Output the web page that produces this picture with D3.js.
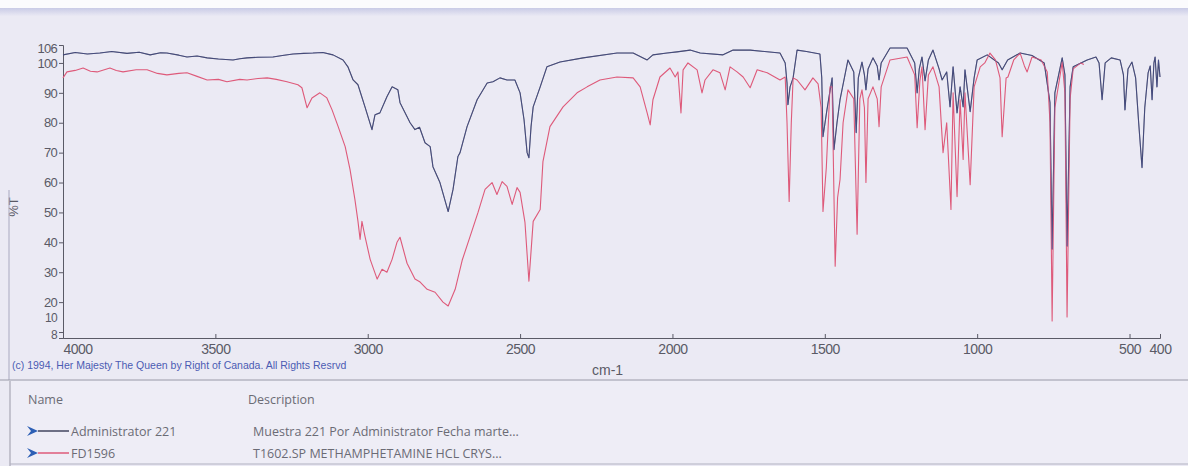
<!DOCTYPE html>
<html>
<head>
<meta charset="utf-8">
<script src="https://cdn.jsdelivr.net/npm/d3@7"></script>
<style>
  html, body { margin: 0; padding: 0; background: #fff; }
  svg { display: block; }
  .axis text { font-family: "Liberation Sans", Arial, sans-serif; fill: #5a5a66; }
  .axis path, .axis line { stroke: #5a5a66; }
  .legend text { font-family: "Open Sans", "Noto Sans", sans-serif; fill: #6b6b75; font-size: 12.5px; }
</style>
</head>
<body>
<div id="chart"></div>
<script>
// IR spectra overlay: sample vs library reference (%T vs cm-1)

// Administrator 221 (sample), [wavenumber, %T]
const adminSpectrum = [
  [4000,102.7],[3960,103.5],[3920,103],[3879,103.3],[3840,103.8],[3790,103.2],[3750,103.6],[3714,102.7],
  [3680,103.4],[3659,103.3],[3620,102.6],[3593,102],[3560,102.3],[3527,101.7],[3490,101.3],[3442,101],
  [3420,101.4],[3396,101.7],[3360,101.9],[3311,102],[3280,102.5],[3245,103],[3210,103.2],[3180,103.3],
  [3147,103.5],[3114,102.7],[3081,101],[3065,98.7],[3048,94.3],[3032,92.7],[3009,85.3],[2986,77.7],
  [2976,82.7],[2960,83.3],[2937,88.7],[2920,92],[2901,91],[2894,86.7],[2861,80],[2845,77.7],[2830,78.5],
  [2812,73.3],[2795,72],[2786,65.3],[2763,60],[2736,50.3],[2720,57.7],[2704,68.7],[2697,70],[2674,78.7],
  [2641,87.7],[2608,93.3],[2589,93.7],[2566,95],[2543,94.3],[2517,94.3],[2500,90],[2487,81],[2477,70],
  [2471,68.3],[2464,78.7],[2457,85.3],[2434,92],[2412,98.7],[2369,100.3],[2293,101.7],[2182,103.3],
  [2129,103.3],[2083,101],[2064,102.7],[2018,103.3],[1985,103.7],[1942,104.3],[1909,103.3],[1834,102.7],
  [1801,104.3],[1745,104.3],[1647,103.3],[1630,100],[1624,93.3],[1621,86],[1614,92],[1604,95],[1591,104.3],
  [1560,103.8],[1516,103],[1510,95],[1506,75.3],[1493,84.3],[1476,95],[1470,71],[1460,80],[1450,87.7],
  [1424,101],[1405,97],[1397,76.7],[1390,95],[1378,100.3],[1370,96],[1365,91],[1358,98],[1342,101.7],
  [1328,99],[1322,94.3],[1315,100],[1286,105],[1230,105],[1205,100],[1197,90],[1190,98],[1181,102],
  [1171,94],[1160,101],[1145,104.3],[1125,98],[1115,94.3],[1100,97],[1089,85.3],[1079,98.7],[1066,83.3],
  [1056,92],[1046,85.3],[1040,97.7],[1023,83.7],[1010,95],[1000,101],[967,102.7],[930,100],[918,97.7],
  [900,101],[859,103.3],[820,102.5],[780,100],[761,86.7],[754,37.7],[745,90],[721,101.7],[712,96],
  [705,38.7],[695,92],[685,98.7],[639,101],[610,102],[600,100],[590,87.7],[580,100],[560,101.7],[531,101],
  [520,96],[515,84.3],[505,98],[492,100.3],[480,95],[470,80],[459,65],[450,85],[439,96.7],[432,99],
  [426,87.7],[420,100],[416,102],[410,92],[405,101],[400,95.3]
];

// FD1596 (library reference), [wavenumber, %T]
const fdSpectrum = [
  [4000,95],[3987,97],[3960,97.5],[3934,98.3],[3910,97.2],[3888,97],[3846,98.3],[3825,97.5],[3803,97],
  [3760,97.7],[3724,97.7],[3690,96.5],[3659,96],[3620,96.5],[3593,96.7],[3560,95.5],[3527,94.3],[3490,94.5],
  [3462,93.7],[3420,94.5],[3396,94.3],[3360,94.8],[3330,95],[3300,94.5],[3265,93.7],[3229,92.7],[3216,91.7],
  [3199,85],[3183,88.3],[3157,90],[3134,88.3],[3117,84.3],[3097,78.7],[3074,72],[3058,64.3],[3042,54.3],
  [3032,47],[3025,41],[3019,47],[3009,42],[2992,34.3],[2969,27.7],[2953,31],[2937,30],[2920,34.3],
  [2904,40],[2894,41.7],[2871,33],[2845,27.7],[2828,26.7],[2805,24.3],[2779,23.3],[2753,20],[2736,18.7],
  [2713,24.3],[2690,34],[2664,42],[2638,50],[2615,57.7],[2592,60],[2576,56],[2559,60.3],[2543,58.7],
  [2526,52.7],[2510,58.3],[2500,56.7],[2484,46.7],[2471,27],[2457,47],[2434,51],[2425,67],[2402,78.7],
  [2359,85.3],[2313,90],[2280,92],[2238,94.3],[2182,95.3],[2129,95],[2106,92],[2083,83.3],[2073,79.3],
  [2064,87.7],[2041,95.3],[2008,98.3],[1991,95.3],[1982,97],[1972,83.3],[1965,97.7],[1949,100],[1919,97.7],
  [1903,90],[1893,94.3],[1867,97.7],[1844,96.7],[1827,91],[1811,98.7],[1788,97],[1768,95.3],[1745,91.7],
  [1722,97.7],[1689,96.7],[1647,94.3],[1630,95.3],[1624,80],[1617,53.7],[1610,80],[1604,95],[1591,94.3],
  [1565,91],[1539,95],[1522,93],[1512,85],[1506,50.3],[1495,65],[1483,92],[1476,92],[1466,32],[1458,55],
  [1450,61],[1440,80],[1424,91],[1405,88],[1394,42.7],[1385,88],[1378,91],[1370,85],[1365,60],[1358,88],
  [1342,92],[1328,88],[1322,78.7],[1315,92],[1286,101],[1230,102],[1205,96],[1197,78.3],[1188,94],
  [1181,98.7],[1171,77.7],[1160,96],[1145,98.7],[1125,92],[1112,70],[1100,80],[1086,51],[1079,90],
  [1066,55.3],[1056,87.7],[1046,67.7],[1040,90],[1023,59.3],[1010,92],[990,98.7],[975,100],[958,103.3],
  [940,101],[925,95],[918,75.3],[905,95],[899,95.3],[880,101],[859,103.3],[845,99],[836,97],[820,102],
  [790,101],[770,97],[761,80],[754,13.7],[745,85],[721,100.3],[712,90],[705,15],[695,88],[685,98],
  [660,100],[650,99.5]
];

const xTicks = [4000, 3500, 3000, 2500, 2000, 1500, 1000, 500, 400];
const yTicks = [106, 100, 90, 80, 70, 60, 50, 40, 30, 20, 10, 8];

const legendNames = ['Administrator 221', 'FD1596'];
const legendDescriptions = ['Muestra 221 Por Administrator Fecha marte...', 'T1602.SP METHAMPHETAMINE HCL CRYS...'];
const seriesColors = ['#42445f', '#de5a7a'];

const W = 1188, H = 466;
const svg = d3.select('#chart').append('svg')
    .attr('width', W)
    .attr('height', H);

// background
const defs = svg.append('defs');
const grad = defs.append('linearGradient').attr('id', 'topband')
    .attr('x1', 0).attr('y1', 0).attr('x2', 0).attr('y2', 1);
grad.append('stop').attr('offset', '0%').attr('stop-color', '#c9cbe6');
grad.append('stop').attr('offset', '100%').attr('stop-color', '#eae9f4');

svg.append('rect').attr('width', W).attr('height', H).attr('fill', '#ebeaf4');
svg.append('rect').attr('width', W).attr('height', 8).attr('fill', '#fbfbfd');
svg.append('rect').attr('y', 8).attr('width', W).attr('height', 8).attr('fill', 'url(#topband)');

// scales
const x = d3.scaleLinear().domain([4000, 400]).range([63, 1160]);
const y = d3.scaleLinear().domain([8, 106]).range([338, 45]);

// axes
const xAxis = svg.append('g')
    .attr('class', 'axis')
    .attr('transform', `translate(0,${y(8)})`)
    .call(d3.axisBottom(x).tickValues(xTicks).tickSize(-4).tickPadding(6).tickFormat(d3.format('d')));
xAxis.selectAll('text').style('font-size', '14px').style('letter-spacing', '-0.5px');
xAxis.selectAll('.tick').filter(d => d === 4000).select('text').attr('text-anchor', 'start');

const yAxis = svg.append('g')
    .attr('class', 'axis')
    .attr('transform', `translate(${x(4000)},0)`)
    .call(d3.axisLeft(y).tickValues(yTicks).tickSize(4).tickPadding(2).tickFormat(d3.format('d')));
yAxis.selectAll('text').style('font-size', '13px').style('letter-spacing', '-0.7px');
// the bottom pair and the top pair sit close together, so nudge their labels apart
yAxis.selectAll('.tick').filter(d => d === 10).select('text').attr('y', -14).style('font-size', '12px');
yAxis.selectAll('.tick').filter(d => d === 8).select('text').attr('y', -3).style('font-size', '12px');
yAxis.selectAll('.tick').filter(d => d === 106).select('text').attr('y', 3);

// axis titles
svg.append('text')
    .attr('transform', 'translate(18,207) rotate(-90)')
    .attr('text-anchor', 'middle')
    .style('font-family', '"Liberation Sans", Arial, sans-serif')
    .style('font-size', '13px')
    .style('fill', '#5a5a66')
    .text('%T');

svg.append('text')
    .attr('x', 592).attr('y', 375)
    .style('font-family', '"Liberation Sans", Arial, sans-serif')
    .style('font-size', '14px')
    .style('fill', '#5a5a66')
    .text('cm-1');

svg.append('text')
    .attr('x', 12).attr('y', 369)
    .style('font-family', '"Liberation Sans", Arial, sans-serif')
    .style('font-size', '10.5px')
    .style('fill', '#4b5cb3')
    .text('(c) 1994, Her Majesty The Queen by Right of Canada. All Rights Resrvd');

// spectra
const line = d3.line()
    .x(d => x(d[0]))
    .y(d => y(d[1]));

[adminSpectrum, fdSpectrum].forEach((data, i) => {
    svg.append('path')
        .datum(data)
        .attr('fill', 'none')
        .attr('stroke', seriesColors[i])
        .attr('stroke-width', 1.1)
        .attr('stroke-linejoin', 'round')
        .attr('d', line);
});
// sample drawn again thinly on top so it shows through the reference
svg.append('path')
    .datum(adminSpectrum)
    .attr('fill', 'none')
    .attr('stroke', '#4a55a0')
    .attr('stroke-opacity', 0.5)
    .attr('stroke-width', 0.9)
    .attr('d', line);

// frame lines
svg.append('line').attr('x1', 9).attr('x2', 9).attr('y1', 190).attr('y2', 380)
    .attr('stroke', '#a9a9c0').attr('stroke-width', 1);
svg.append('line').attr('x1', 0).attr('x2', W).attr('y1', 380).attr('y2', 380)
    .attr('stroke', '#9a9aa8').attr('stroke-width', 1);

// legend table
const legend = svg.append('g').attr('class', 'legend');
legend.append('rect').attr('x', 10).attr('y', 381).attr('width', W - 10).attr('height', 84)
    .attr('fill', '#eeedf6');
legend.append('line').attr('x1', 10).attr('x2', 10).attr('y1', 381).attr('y2', 466)
    .attr('stroke', '#9a9aa8');
legend.append('line').attr('x1', 10).attr('x2', W).attr('y1', 464).attr('y2', 464)
    .attr('stroke', '#b0b0c0');

legend.append('text').attr('x', 28).attr('y', 404).text('Name');
legend.append('text').attr('x', 248).attr('y', 404).text('Description');

legendNames.forEach((name, i) => {
    const cy = 431 + i * 22;
    const row = legend.append('g');
    row.append('path')
        .attr('d', `M27,${cy - 5} L38,${cy} L27,${cy + 5} L31,${cy}Z`)
        .attr('fill', '#2d5fb5');
    row.append('line')
        .attr('x1', 38).attr('x2', 69).attr('y1', cy).attr('y2', cy)
        .attr('stroke', seriesColors[i]).attr('stroke-width', 1.5);
    row.append('text').attr('x', 71).attr('y', cy + 4.5).text(name);
    row.append('text').attr('x', 253).attr('y', cy + 4.5).text(legendDescriptions[i]);
});
</script>
</body>
</html>
